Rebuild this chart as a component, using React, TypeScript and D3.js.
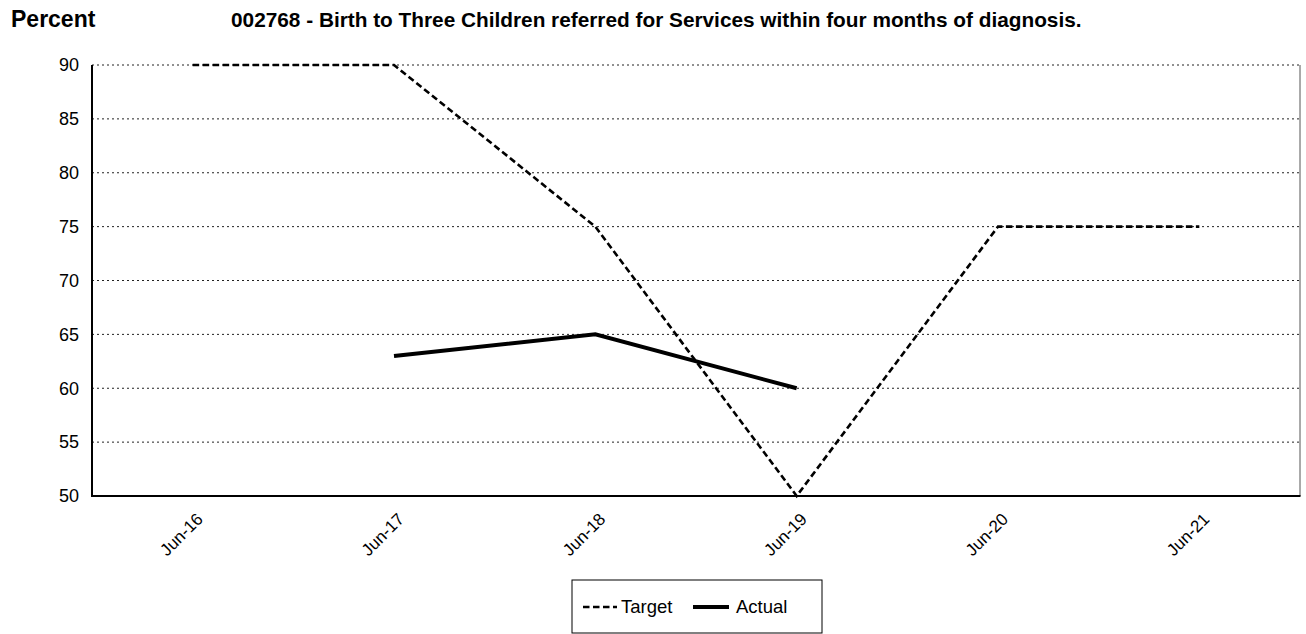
import React, { useEffect, useRef } from "react";
import * as d3 from "d3";

const categories = ["Jun-16", "Jun-17", "Jun-18", "Jun-19", "Jun-20", "Jun-21"];
const targetValues = [90, 90, 75, 50, 75, 75];
const actualValues = [null, 63, 65, 60, null, null];
const yTicks = [50, 55, 60, 65, 70, 75, 80, 85, 90];

const App = () => {
  const svgRef = useRef(null);

  useEffect(() => {
    const svg = d3.select(svgRef.current);
    svg.selectAll("*").remove();

    const width = 1306, height = 634;
    const left = 92, right = 1300, top = 65, bottom = 496;
    const font = "Arial, 'Liberation Sans', sans-serif";

    const x = d3.scaleBand().domain(categories).range([left, right]);
    const y = d3.scaleLinear().domain([50, 90]).range([bottom, top]);
    const cx = d => x(d) + x.bandwidth() / 2;

    svg.append("rect").attr("width", width).attr("height", height).attr("fill", "white");

    // titles
    svg.append("text").attr("x", 11).attr("y", 27)
      .style("font", `bold 23px ${font}`).text("Percent");
    svg.append("text").attr("x", 231).attr("y", 27)
      .style("font", `bold 20.8px ${font}`)
      .text("002768 - Birth to Three Children referred for Services within four months of diagnosis.");

    // gridlines
    svg.append("g").selectAll("line")
      .data(yTicks.filter(t => t > 50))
      .join("line")
      .attr("x1", left).attr("x2", right)
      .attr("y1", d => y(d)).attr("y2", d => y(d))
      .attr("stroke", "#222").attr("stroke-width", 1)
      .attr("stroke-dasharray", "2,3");

    // right border
    svg.append("line").attr("x1", right).attr("x2", right).attr("y1", top).attr("y2", bottom)
      .attr("stroke", "#555").attr("stroke-width", 1);

    // axes
    svg.append("line").attr("x1", left).attr("x2", left).attr("y1", top).attr("y2", bottom + 1)
      .attr("stroke", "black").attr("stroke-width", 2);
    svg.append("line").attr("x1", left - 1).attr("x2", right + 0.5).attr("y1", bottom).attr("y2", bottom)
      .attr("stroke", "black").attr("stroke-width", 2);

    // y labels
    svg.append("g").selectAll("text")
      .data(yTicks)
      .join("text")
      .attr("x", 79).attr("y", d => y(d))
      .attr("dy", "0.35em")
      .attr("text-anchor", "end")
      .style("font", `18px ${font}`)
      .text(d => d);

    // x labels
    svg.append("g").selectAll("text")
      .data(categories)
      .join("text")
      .attr("transform", d => `translate(${cx(d) + 7},${bottom + 20}) rotate(-45)`)
      .attr("text-anchor", "end")
      .attr("dy", "0.35em")
      .style("font", `17px ${font}`)
      .text(d => d);

    const line = d3.line()
      .defined(d => d.v != null)
      .x(d => cx(d.c))
      .y(d => y(d.v));

    svg.append("path")
      .datum(categories.map((c, i) => ({ c, v: targetValues[i] })))
      .attr("d", line)
      .attr("fill", "none").attr("stroke", "black")
      .attr("stroke-width", 2.6).attr("stroke-dasharray", "6.5,3.5");

    svg.append("path")
      .datum(categories.map((c, i) => ({ c, v: actualValues[i] })))
      .attr("d", line)
      .attr("fill", "none").attr("stroke", "black")
      .attr("stroke-width", 4);

    // legend
    const lg = svg.append("g");
    lg.append("rect").attr("x", 572).attr("y", 580).attr("width", 250).attr("height", 53)
      .attr("fill", "white").attr("stroke", "black").attr("stroke-width", 1);
    lg.append("line").attr("x1", 583).attr("x2", 617).attr("y1", 607).attr("y2", 607)
      .attr("stroke", "black").attr("stroke-width", 2.6).attr("stroke-dasharray", "6.5,3.5");
    lg.append("text").attr("x", 621).attr("y", 613)
      .style("font", `18.5px ${font}`).text("Target");
    lg.append("line").attr("x1", 693).attr("x2", 729).attr("y1", 607).attr("y2", 607)
      .attr("stroke", "black").attr("stroke-width", 4);
    lg.append("text").attr("x", 736).attr("y", 613)
      .style("font", `18.5px ${font}`).text("Actual");
  }, []);

  return <svg ref={svgRef} width={1306} height={634} style={{ position: "absolute", left: 0, top: 0 }}></svg>;
};

export default App;
